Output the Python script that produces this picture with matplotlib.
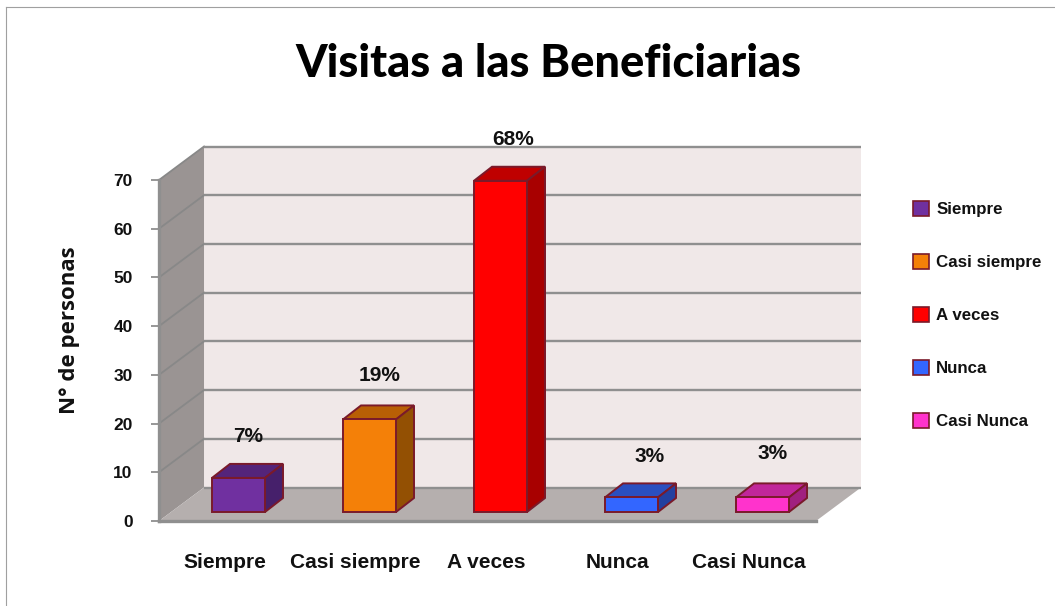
import matplotlib
matplotlib.use("Agg")
import matplotlib.pyplot as plt
from matplotlib.lines import Line2D
from matplotlib.patches import Patch, Polygon

# Data
categories = ["Siempre", "Casi siempre", "A veces", "Nunca", "Casi Nunca"]
personas = [7, 19, 68, 3, 3]
porcentajes = ["7%", "19%", "68%", "3%", "3%"]
y_ticks = [0, 10, 20, 30, 40, 50, 60, 70]

# Colours: front, top and side of each bar
front_colors = ["#7030a0", "#f48008", "#ff0000", "#3366ff", "#ff33cc"]
top_colors = ["#54247a", "#b85f05", "#bf0000", "#2a4fc0", "#c0269a"]
side_colors = ["#46206b", "#935003", "#a80000", "#2340a0", "#a0207f"]
edge_color = "#7a1a2a"
grid_color = "#8f8f8f"

# Nudge of each percentage label from its bar, in pixels
label_dx = [9.5, 10, 12.5, 18, 10]
label_dy = [41, 44, 41, 41, 44]

W, H = 1055, 606
fig = plt.figure(figsize=(W / 100, H / 100), dpi=100, facecolor="white")
ax = fig.add_axes([159 / W, (H - 521) / H, 657 / W, 341 / H])
ax.set_xlim(-0.5, 4.515)
ax.set_ylim(0, 70)
ax.set_facecolor("none")

# data units per pixel
ux = 1 / 131
uy = 70 / 341

# depth of the 3D box and of the bars
box_dx, box_dy = 45 * ux, 33.5 * uy
bar_dx, bar_dy = 18 * ux, 14 * uy
off_x, off_y = 14 * ux, 9 * uy
bar_w = 53 * ux

x0, x1 = ax.get_xlim()
top = ax.get_ylim()[1]

# walls and floor
ax.add_patch(Polygon([(x0 + box_dx, box_dy), (x1 + box_dx, box_dy), (x1 + box_dx, top + box_dy), (x0 + box_dx, top + box_dy)],
                     fc="#f0e8e8", ec="none", clip_on=False, zorder=1))
ax.add_patch(Polygon([(x0, 0), (x0 + box_dx, box_dy), (x0 + box_dx, top + box_dy), (x0, top)],
                     fc="#9a9493", ec="none", clip_on=False, zorder=1))
ax.add_patch(Polygon([(x0, 0), (x1, 0), (x1 + box_dx, box_dy), (x0 + box_dx, box_dy)],
                     fc="#b5afae", ec="none", clip_on=False, zorder=1))

# grid lines on back wall and side wall
for t in y_ticks:
    if t > 0:
        ax.plot([x0, x0 + box_dx], [t, t + box_dy], color="#888888", lw=1.3, clip_on=False, zorder=2)
    ax.plot([x0 + box_dx, x1 + box_dx], [t + box_dy, t + box_dy], color=grid_color, lw=1.7, clip_on=False, zorder=2,
            solid_capstyle="butt")

# bars
positions = list(range(len(categories)))
for i, v in enumerate(personas):
    left = positions[i] - bar_w / 2 + off_x
    right = left + bar_w
    ax.bar(left, v, width=bar_w, bottom=off_y, align="edge", color=front_colors[i], edgecolor=edge_color,
           linewidth=1.4, clip_on=False, zorder=4)
    ax.add_patch(Polygon([(left, v + off_y), (right, v + off_y), (right + bar_dx, v + off_y + bar_dy), (left + bar_dx, v + off_y + bar_dy)],
                         fc=top_colors[i], ec=edge_color, lw=1.4, clip_on=False, zorder=3))
    ax.add_patch(Polygon([(right, off_y), (right + bar_dx, off_y + bar_dy), (right + bar_dx, v + off_y + bar_dy), (right, v + off_y)],
                         fc=side_colors[i], ec=edge_color, lw=1.4, clip_on=False, zorder=3))
    ax.text((left + right) / 2 + label_dx[i] * ux, v + off_y + label_dy[i] * uy, porcentajes[i], ha="center", va="center",
            fontsize=15, fontweight="bold", family="Liberation Sans", color="#111111", zorder=6, clip_on=False)

# axes
for s in ["top", "right"]:
    ax.spines[s].set_visible(False)
for s in ["left", "bottom"]:
    ax.spines[s].set_color(grid_color)
    ax.spines[s].set_linewidth(2.4)
    ax.spines[s].set_zorder(5)
ax.set_yticks(y_ticks)
ax.set_xticks(positions)
ax.set_xticklabels(categories, fontsize=15, fontweight="bold", family="Liberation Sans", color="#111111")
ax.tick_params(axis="x", length=0, pad=23)
ax.tick_params(axis="y", length=6, width=1.3, color=grid_color, pad=13)
for lab in ax.get_yticklabels():
    lab.set_fontsize(12.5)
    lab.set_fontweight("bold")
    lab.set_family("Liberation Sans")
    lab.set_color("#111111")

fig.text(70 / W, 1 - 330 / H, "N° de personas", rotation=90, ha="center", va="center", fontsize=16,
         fontweight="bold", family="Open Sans", color="#111111")
fig.text(548 / W, 1 - 64 / H, "Visitas a las Beneficiarias", ha="center", va="center", fontsize=32.5,
         fontweight=900, family="Lato", color="black")

# legend
handles = [Patch(facecolor=c, edgecolor=edge_color, linewidth=1.2) for c in front_colors]
fig.legend(handles, categories, loc="upper left", bbox_to_anchor=(913 / W, 1 - 201 / H), frameon=False,
           prop={"family": "Liberation Sans", "weight": "bold", "size": 12.2}, handlelength=0.97, handleheight=0.97,
           handletextpad=0.4, labelspacing=2.17, borderpad=0, borderaxespad=0, labelcolor="#111111")

# thin frame of the original picture
fig.add_artist(Line2D([6 / W, 6 / W], [0, 1 - 7 / H], color="#a0a0a0", lw=0.8))
fig.add_artist(Line2D([6 / W, 1], [1 - 7 / H, 1 - 7 / H], color="#a0a0a0", lw=0.8))

fig.savefig("out.png", dpi=100)
